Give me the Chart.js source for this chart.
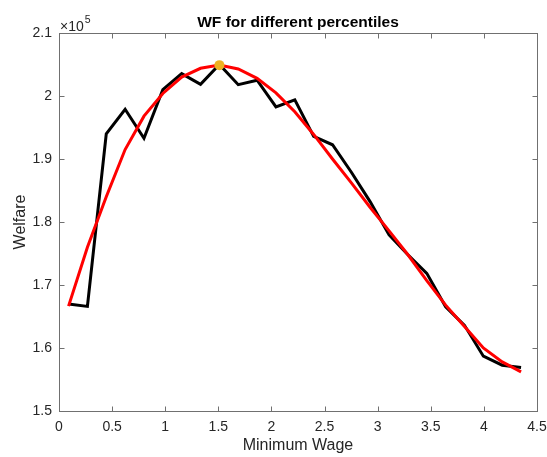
<!DOCTYPE html>
<html>
<head>
<meta charset="utf-8">
<script src="https://cdn.jsdelivr.net/npm/chart.js@4/dist/chart.umd.min.js"></script>
<style>
  html, body { margin: 0; padding: 0; background: #fff; }
</style>
</head>
<body>
<canvas id="grafico" width="547" height="457"></canvas>
<script>
// valores de salário mínimo (eixo x)
const salarioMinimo = [0.09, 0.2675, 0.445, 0.6225, 0.80, 0.9775, 1.155, 1.3325, 1.51, 1.6875,
    1.865, 2.0425, 2.22, 2.3975, 2.575, 2.7525, 2.93, 3.1075, 3.285, 3.4625,
    3.64, 3.8175, 3.995, 4.1725, 4.35]

// bem-estar observado (curva preta)
const bemEstar = [167000, 166600, 194000, 197900, 193300, 201000, 203550, 201850, 205000, 201800,
    202500, 198260, 199400, 193600, 192260, 187900, 183200, 177950, 174800, 171850,
    166540, 163600, 158700, 157270, 156900]

// curva ajustada (vermelha)
const bemEstarAjustado = [166650, 176000, 184000, 191500, 196800, 200400, 203000, 204400, 204900, 204300,
    202800, 200500, 197500, 193900, 190000, 186200, 182300, 178600, 174800, 170700,
    166800, 163400, 160000, 157800, 156200]

// ponto máximo
const picoX = [1.51]
const picoY = [204900]

const ticksX = [0, 0.5, 1, 1.5, 2, 2.5, 3, 3.5, 4, 4.5]
const ticksY = [150000, 160000, 170000, 180000, 190000, 200000, 210000]

const fonte = '"Liberation Sans", Arial, Helvetica, sans-serif'
const corEixo = '#262626'

function juntar(xs, ys) {
    return xs.map((x, i) => ({ x: x, y: ys[i] }))
}

// moldura com ticks para dentro, título e o fator x10^5
const molduraPlugin = {
    id: 'moldura',
    afterDraw(chart) {
        const ctx = chart.ctx
        const area = chart.chartArea
        const sx = chart.scales.x
        const sy = chart.scales.y
        const l = Math.round(area.left) + 0.5
        const r = Math.round(area.right) + 0.5
        const t = Math.round(area.top) + 0.5
        const b = Math.round(area.bottom) + 0.5
        ctx.save()
        ctx.strokeStyle = '#707070'
        ctx.lineWidth = 1
        ctx.strokeRect(l, t, r - l, b - t)
        ctx.beginPath()
        ticksX.forEach(v => {
            const px = Math.round(sx.getPixelForValue(v)) + 0.5
            ctx.moveTo(px, b); ctx.lineTo(px, b - 5)
            ctx.moveTo(px, t); ctx.lineTo(px, t + 5)
        })
        ticksY.forEach(v => {
            const py = Math.round(sy.getPixelForValue(v)) + 0.5
            ctx.moveTo(l, py); ctx.lineTo(l + 5, py)
            ctx.moveTo(r, py); ctx.lineTo(r - 5, py)
        })
        ctx.stroke()

        ctx.fillStyle = '#000'
        ctx.font = 'bold 15.5px ' + fonte
        ctx.textAlign = 'center'
        ctx.textBaseline = 'alphabetic'
        ctx.fillText('WF for different percentiles', (area.left + area.right) / 2, 27)

        ctx.fillStyle = corEixo
        ctx.textAlign = 'left'
        ctx.font = '14px ' + fonte
        ctx.fillText('\u00d710', area.left + 1, 31)
        const w = ctx.measureText('\u00d710').width
        ctx.font = '10.5px ' + fonte
        ctx.fillText('5', area.left + 1 + w + 1, 23)
        ctx.restore()
    }
}

const ctx = document.getElementById('grafico').getContext('2d')

new Chart(ctx, {
    type: 'line',
    data: {
        datasets: [
            {
                data: juntar(picoX, picoY),
                showLine: false,
                pointRadius: 5,
                pointBackgroundColor: '#EDB120',
                pointBorderColor: '#EDB120',
                pointBorderWidth: 0,
                order: 0
            },
            {
                data: juntar(salarioMinimo, bemEstarAjustado),
                borderColor: '#FF0000',
                borderWidth: 3,
                pointRadius: 0,
                tension: 0,
                fill: false,
                order: 1
            },
            {
                data: juntar(salarioMinimo, bemEstar),
                borderColor: '#000000',
                borderWidth: 3,
                pointRadius: 0,
                tension: 0,
                fill: false,
                order: 2
            }
        ]
    },
    options: {
        responsive: false,
        animation: false,
        layout: {
            padding: { top: 33, right: 10, left: 0, bottom: 0 }
        },
        scales: {
            x: {
                type: 'linear',
                min: 0,
                max: 4.5,
                afterFit(scale) {
                    scale.height = 46
                    scale.paddingLeft = 0
                    scale.paddingRight = 0
                },
                afterBuildTicks(scale) { scale.ticks = ticksX.map(v => ({ value: v })) },
                grid: { display: false, drawTicks: false },
                border: { display: false },
                ticks: {
                    padding: 8,
                    color: corEixo,
                    font: { family: fonte, size: 14 },
                    maxRotation: 0,
                    callback: v => String(v)
                },
                title: {
                    display: true,
                    text: 'Minimum Wage',
                    color: corEixo,
                    font: { family: fonte, size: 16 },
                    padding: { top: 0, bottom: 1.5 }
                }
            },
            y: {
                type: 'linear',
                min: 150000,
                max: 210000,
                afterFit(scale) {
                    scale.width = 59
                    scale.paddingTop = 0
                    scale.paddingBottom = 0
                },
                afterBuildTicks(scale) { scale.ticks = ticksY.map(v => ({ value: v })) },
                grid: { display: false, drawTicks: false },
                border: { display: false },
                ticks: {
                    padding: 7,
                    color: corEixo,
                    font: { family: fonte, size: 14 },
                    callback: v => String(Math.round(v / 10000) / 10)
                },
                title: {
                    display: true,
                    text: 'Welfare',
                    color: corEixo,
                    font: { family: fonte, size: 16 },
                    padding: { top: 10.5, bottom: 0 }
                }
            }
        },
        plugins: {
            legend: { display: false },
            tooltip: { enabled: false },
            title: { display: false }
        }
    },
    plugins: [molduraPlugin]
})
</script>
</body>
</html>
